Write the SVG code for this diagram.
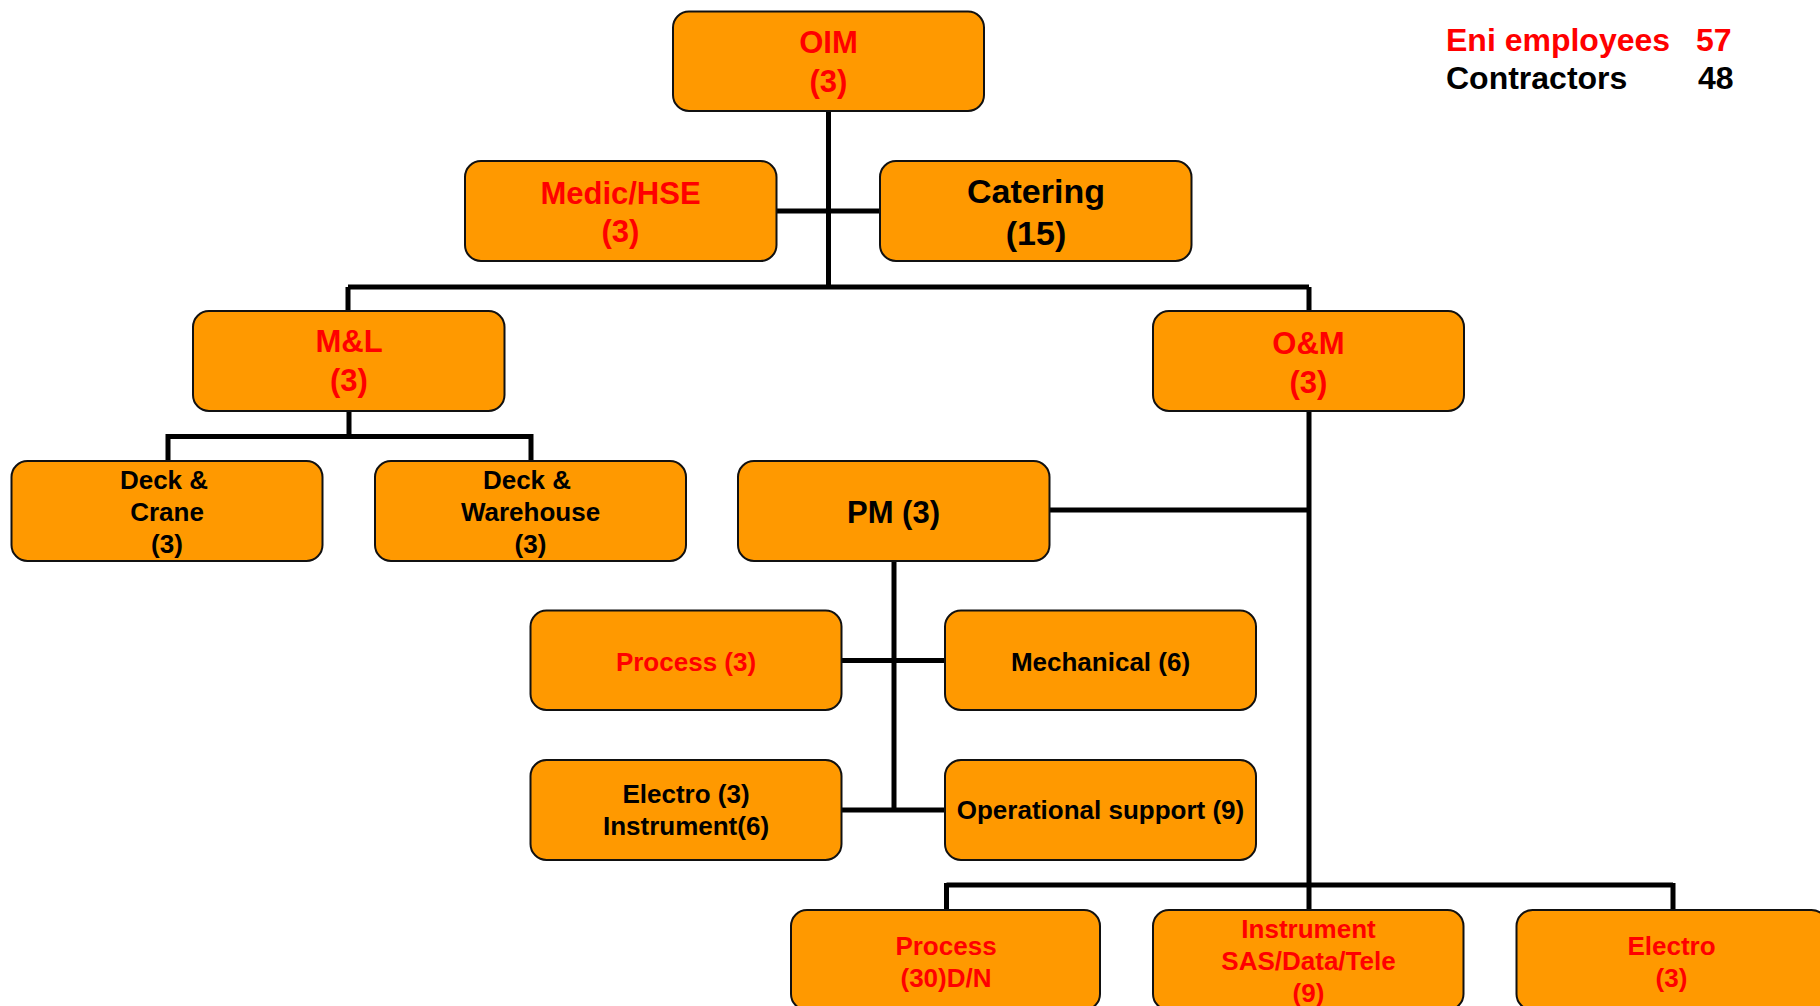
<svg xmlns="http://www.w3.org/2000/svg" width="1820" height="1006" viewBox="0 0 1820 1006">
<style>
.box{fill:#FF9900;stroke:#111;stroke-width:2}
text{font-family:"Liberation Sans",Arial,sans-serif;font-weight:bold;text-anchor:middle}
.r{fill:#FF0000}
.k{fill:#000}
.h{font-size:31px}
.c{font-size:34px}
.s{font-size:26px}
.lg{font-size:32px;text-anchor:start}
.ln{stroke:#000;stroke-width:5;fill:none}
</style>
<rect width="1820" height="1006" fill="#fff"/>
<g id="connectors">
<path class="ln" d="M828.5 111V287M776.5 211H880M348 287H1309M348 287V311M1309 287V311"/>
<path class="ln" d="M349 411V436.5M168 436.5H531M168 434V461M531 434V461"/>
<path class="ln" d="M1309 411V887M1049.5 510H1309"/>
<path class="ln" d="M894 561V812M841 660.5H945M841 810H945"/>
<path class="ln" d="M946.5 885H1673M946.5 883V910M1673 883V910M1309 885V910"/>
</g>
<g id="oim"><rect class="box" x="673" y="11.5" width="311" height="99.5" rx="16"/>
<text class="h r" x="828.5" y="53">OIM</text><text class="h r" x="828.5" y="92">(3)</text></g>
<g id="medic"><rect class="box" x="465" y="161" width="311.5" height="100" rx="16"/>
<text class="h r" x="620.5" y="204">Medic/HSE</text><text class="h r" x="620.5" y="242">(3)</text></g>
<g id="catering"><rect class="box" x="880" y="161" width="311.5" height="100" rx="16"/>
<text class="c k" x="1036" y="203">Catering</text><text class="c k" x="1036" y="245">(15)</text></g>
<g id="ml"><rect class="box" x="193" y="311" width="311.5" height="100" rx="16"/>
<text class="h r" x="349" y="352">M&amp;L</text><text class="h r" x="349" y="391">(3)</text></g>
<g id="om"><rect class="box" x="1153" y="311" width="311" height="100" rx="16"/>
<text class="h r" x="1308.5" y="354">O&amp;M</text><text class="h r" x="1308.5" y="393">(3)</text></g>
<g id="deck-crane"><rect class="box" x="11.5" y="461" width="311" height="100" rx="16"/>
<text class="s k" x="164" y="489">Deck &amp;</text><text class="s k" x="167" y="521">Crane</text><text class="s k" x="167" y="553">(3)</text></g>
<g id="deck-warehouse"><rect class="box" x="375" y="461" width="311" height="100" rx="16"/>
<text class="s k" x="527" y="489">Deck &amp;</text><text class="s k" x="530.5" y="521">Warehouse</text><text class="s k" x="530.5" y="553">(3)</text></g>
<g id="pm"><rect class="box" x="738" y="461" width="311.5" height="100" rx="16"/>
<text class="h k" x="893.5" y="523">PM (3)</text></g>
<g id="process3"><rect class="box" x="530.5" y="610.5" width="311" height="99.5" rx="16"/>
<text class="s r" x="686" y="671">Process (3)</text></g>
<g id="mechanical"><rect class="box" x="945" y="610.5" width="311" height="99.5" rx="16"/>
<text class="s k" x="1100.5" y="671">Mechanical (6)</text></g>
<g id="electro-instrument"><rect class="box" x="530.5" y="760" width="311" height="100" rx="16"/>
<text class="s k" x="686" y="803">Electro (3)</text><text class="s k" x="686" y="835">Instrument(6)</text></g>
<g id="opsupport"><rect class="box" x="945" y="760" width="311" height="100" rx="16"/>
<text class="s k" x="1100.5" y="819">Operational support (9)</text></g>
<g id="process30"><rect class="box" x="791" y="910" width="309" height="100" rx="16"/>
<text class="s r" x="946" y="955">Process</text><text class="s r" x="946" y="987">(30)D/N</text></g>
<g id="instrument"><rect class="box" x="1153" y="910" width="310.5" height="100" rx="16"/>
<text class="s r" x="1308.5" y="938">Instrument</text><text class="s r" x="1308.5" y="970">SAS/Data/Tele</text><text class="s r" x="1308.5" y="1002">(9)</text></g>
<g id="electro"><rect class="box" x="1516.5" y="910" width="311" height="100" rx="16"/>
<text class="s r" x="1671.5" y="955">Electro</text><text class="s r" x="1671.5" y="987">(3)</text></g>
<g id="legend">
<text class="lg r" x="1446" y="51">Eni employees</text><text class="lg r" x="1696" y="51">57</text>
<text class="lg k" x="1446" y="89">Contractors</text><text class="lg k" x="1698" y="89">48</text>
</g>
</svg>
